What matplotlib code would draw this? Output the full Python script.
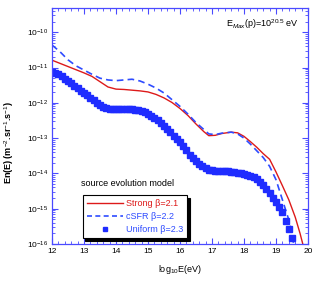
import matplotlib
matplotlib.use("Agg")
import matplotlib.pyplot as plt
import numpy as np
from matplotlib.lines import Line2D
from matplotlib.ticker import LogLocator, MultipleLocator, FixedLocator

plt.rcParams['font.family'] = ['Liberation Sans', 'DejaVu Sans']
plt.rcParams['mathtext.fontset'] = 'custom'
plt.rcParams['mathtext.rm'] = 'Liberation Sans'
plt.rcParams['mathtext.it'] = 'Liberation Sans:italic'
plt.rcParams['mathtext.bf'] = 'Liberation Sans:bold'

# log10 E (eV) and log10 of E n(E)
strong_x = [12.0, 12.25, 12.5, 12.75, 13.0, 13.25, 13.5, 13.75, 14.0, 14.25, 14.5, 14.75,
            15.0, 15.25, 15.5, 15.75, 16.0, 16.25, 16.5, 16.75, 16.9, 17.1, 17.3, 17.6,
            17.8, 18.0, 18.2, 18.4, 18.6, 18.8, 19.0, 19.2, 19.4, 19.6, 19.75, 19.85]
strong_y = [-10.79, -10.88, -10.97, -11.06, -11.15, -11.25, -11.40, -11.55, -11.61, -11.62,
            -11.64, -11.66, -11.69, -11.76, -11.86, -11.99, -12.16, -12.36, -12.60, -12.82,
            -12.93, -12.92, -12.87, -12.83, -12.85, -12.95, -13.10, -13.26, -13.44, -13.60,
            -13.96, -14.35, -14.75, -15.24, -15.70, -16.05]

csfr_x = [12.0, 12.25, 12.5, 12.75, 13.0, 13.25, 13.5, 13.75, 14.0, 14.25, 14.5, 14.75,
          15.0, 15.25, 15.5, 15.75, 16.0, 16.25, 16.5, 16.75, 16.9, 17.1, 17.3, 17.6,
          17.8, 18.0, 18.2, 18.4, 18.6, 18.8, 19.0, 19.2, 19.4, 19.5, 19.56]
csfr_y = [-10.36, -10.55, -10.78, -10.95, -11.07, -11.19, -11.30, -11.35, -11.37, -11.35,
          -11.33, -11.38, -11.47, -11.58, -11.72, -11.91, -12.10, -12.32, -12.56, -12.76,
          -12.88, -12.90, -12.86, -12.83, -12.88, -13.00, -13.17, -13.36, -13.55, -13.80,
          -14.18, -14.75, -15.32, -15.72, -16.05]

uniform_x = [12.0, 12.1, 12.2, 12.3, 12.4, 12.5, 12.6, 12.7, 12.8, 12.9,
             13.0, 13.1, 13.2, 13.3, 13.4, 13.5, 13.6, 13.7, 13.8, 13.9,
             14.0, 14.1, 14.2, 14.3, 14.4, 14.5, 14.6, 14.7, 14.8, 14.9,
             15.0, 15.1, 15.2, 15.3, 15.4, 15.5, 15.6, 15.7, 15.8, 15.9,
             16.0, 16.1, 16.2, 16.3, 16.4, 16.5, 16.6, 16.7, 16.8, 16.9,
             17.0, 17.1, 17.2, 17.3, 17.4, 17.5, 17.6, 17.7, 17.8, 17.9,
             18.0, 18.1, 18.2, 18.3, 18.4, 18.5, 18.6, 18.7, 18.8, 18.9,
             19.0, 19.1, 19.2, 19.3, 19.4, 19.5]
uniform_y = [-11.13, -11.16, -11.19, -11.25, -11.31, -11.38, -11.44, -11.51, -11.58, -11.65,
             -11.72, -11.78, -11.85, -11.92, -11.99, -12.06, -12.11, -12.15, -12.17, -12.18,
             -12.18, -12.18, -12.18, -12.18, -12.18, -12.18, -12.19, -12.20, -12.23, -12.27,
             -12.32, -12.37, -12.43, -12.49, -12.56, -12.65, -12.74, -12.84, -12.93, -13.02,
             -13.11, -13.23, -13.35, -13.47, -13.57, -13.66, -13.74, -13.80, -13.85, -13.89,
             -13.91, -13.92, -13.93, -13.93, -13.93, -13.94, -13.95, -13.96, -13.98, -14.00,
             -14.02, -14.04, -14.06, -14.10, -14.16, -14.24, -14.33, -14.44, -14.55, -14.69,
             -14.82, -14.95, -15.10, -15.34, -15.57, -15.83]

labels = ['Strong \u03b2=2.1', 'cSFR \u03b2=2.2', 'Uniform \u03b2=2.3']
xticks = [12, 13, 14, 15, 16, 17, 18, 19, 20]
ydecades = [-16, -15, -14, -13, -12, -11, -10]

red = '#dd1a1a'
blue = '#2e4bff'
sq_blue = '#1f2cff'
axis_blue = '#4a4aff'

fig = plt.figure(figsize=(3.27, 2.85), dpi=100)
ax = fig.add_axes([0.159, 0.144, 0.783, 0.828])

ax.plot(strong_x, 10.0 ** np.array(strong_y), color=red, lw=1.0)
ax.plot(csfr_x, 10.0 ** np.array(csfr_y), color=blue, lw=1.2, dashes=(4, 2.5))
ax.plot(uniform_x, 10.0 ** np.array(uniform_y), ls='none', marker='s', ms=3.8,
        color=sq_blue, mec=sq_blue)

ax.set_yscale('log')
ax.set_xlim(12, 20)
ax.set_ylim(1e-16, 4.9e-10)

ax.xaxis.set_major_locator(FixedLocator(xticks))
ax.xaxis.set_minor_locator(MultipleLocator(0.2))
ax.yaxis.set_major_locator(FixedLocator([10.0 ** d for d in ydecades]))
ax.yaxis.set_minor_locator(LogLocator(base=10, subs=np.arange(2, 10), numticks=20))
ax.set_xticklabels([str(t) for t in xticks])
ax.set_yticklabels(['10$^{%d}$' % d for d in ydecades])

for s in ax.spines.values():
    s.set_color(axis_blue)
    s.set_linewidth(0.9)
ax.tick_params(which='both', direction='in', top=True, right=True, color=axis_blue,
               labelsize=6, pad=3)
ax.tick_params(which='major', length=4, width=0.8)
ax.tick_params(which='minor', length=2, width=0.6)

ax.set_xlabel('log$_{10}$E(eV)', fontsize=6.5, labelpad=6)
ax.set_ylabel('En(E) (m$^{-2}$.sr$^{-1}$.s$^{-1}$)', fontsize=6.5, fontweight='bold')
ax.yaxis.set_label_coords(-0.14, 0.43)

ax.text(0.68, 0.93, 'E$_{Max}$(p)=10$^{20.5}$ eV', transform=ax.transAxes,
        fontsize=6.5, va='center', ha='left')

handles = [Line2D([], [], color=red, lw=1.0),
           Line2D([], [], color=blue, lw=1.2, dashes=(3, 2)),
           Line2D([], [], ls='none', marker='s', ms=3.2, color=sq_blue)]
leg = ax.legend(handles, labels, loc='lower left', bbox_to_anchor=(0.12, 0.025),
                fontsize=6.5, frameon=True, fancybox=False, shadow={'color': 'black', 'alpha': 1},
                handlelength=4, handletextpad=0.3, borderpad=0.45, labelspacing=0.45,
                labelcolor=[red, blue, blue], borderaxespad=0)
leg.get_frame().set_edgecolor('black')
leg.get_frame().set_linewidth(0.8)
ax.text(0.113, 0.255, 'source evolution model', transform=ax.transAxes,
        fontsize=6.5, va='center', ha='left')

fig.savefig('out.png', dpi=100)
